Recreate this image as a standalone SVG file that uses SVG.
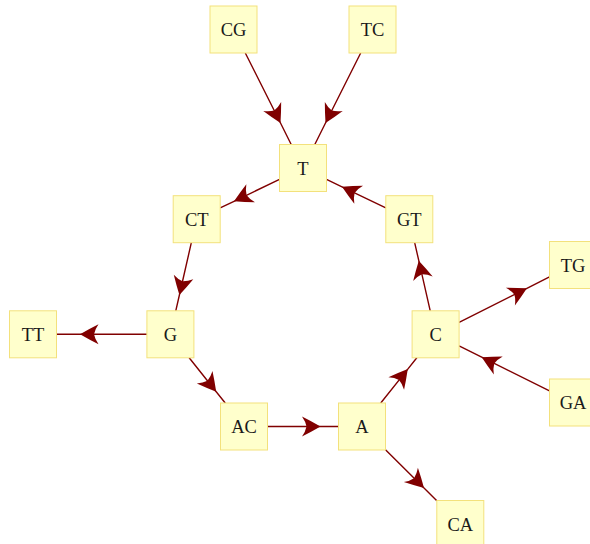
<svg xmlns="http://www.w3.org/2000/svg" width="590" height="544" viewBox="0 0 590 544">
<style>
.node rect{fill:#ffffcc;stroke:#f3e17c;stroke-width:1}
.node text{font-family:"Liberation Serif","DejaVu Serif",serif;font-size:18.5px;fill:#1a1a1a;text-anchor:middle}
.edge{fill:none;stroke:#800000;stroke-width:1.4;marker-mid:url(#arr)}
</style>
<defs>
<marker id="arr" markerUnits="userSpaceOnUse" markerWidth="22" markerHeight="22" viewBox="0 0 22 22" refX="19.5" refY="11" orient="auto">
<path d="M19.5,11 Q10,5.5 1,1 Q4.5,6 5.5,11 Q4.5,16 1,21 Q10,16.5 19.5,11 Z" fill="#800000"/>
</marker>
</defs>
<g id="connectors">
<path class="edge" d="M245.3,53 L280.5,123 L291.2,144.5"/>
<path class="edge" d="M360.7,53 L325.5,123 L314.8,144.5"/>
<path class="edge" d="M279.5,179.3 L234.0,201.3 L220.2,207.9"/>
<path class="edge" d="M385.8,207.9 L342.0,186.8 L326.5,179.3"/>
<path class="edge" d="M191.33,242.7 L179.4,295 L175.77,310.8"/>
<path class="edge" d="M430.23,310.8 L418.8,260.7 L414.67,242.7"/>
<path class="edge" d="M146.9,334.3 L80,334.3 L56.5,334.3"/>
<path class="edge" d="M189.16,357.8 L216.2,391.7 L225.24,403"/>
<path class="edge" d="M267.5,426.5 L320.5,426.5 L338.5,426.5"/>
<path class="edge" d="M380.76,403 L407.8,369.1 L416.84,357.8"/>
<path class="edge" d="M385.5,449.8 L424,488 L436.8,500.7"/>
<path class="edge" d="M459.1,322.45 L526.9,288.25 L549.5,276.85"/>
<path class="edge" d="M549.5,390.84 L481.7,357.2 L459.1,345.96"/>
</g>
<g id="CG" class="node"><rect x="210" y="6" width="47" height="47"/><text x="233.5" y="36">CG</text></g>
<g id="TC" class="node"><rect x="349" y="6" width="47" height="47"/><text x="372.5" y="36">TC</text></g>
<g id="T" class="node"><rect x="279.5" y="144.5" width="47" height="47"/><text x="303" y="174.5">T</text></g>
<g id="CT" class="node"><rect x="173.2" y="195.7" width="47" height="47"/><text x="196.7" y="225.7">CT</text></g>
<g id="GT" class="node"><rect x="385.8" y="195.7" width="47" height="47"/><text x="409.3" y="225.7">GT</text></g>
<g id="TT" class="node"><rect x="9.5" y="310.8" width="47" height="47"/><text x="33" y="340.8">TT</text></g>
<g id="G" class="node"><rect x="146.9" y="310.8" width="47" height="47"/><text x="170.4" y="340.8">G</text></g>
<g id="C" class="node"><rect x="412.1" y="310.8" width="47" height="47"/><text x="435.6" y="340.8">C</text></g>
<g id="TG" class="node"><rect x="549.5" y="241.5" width="47" height="47"/><text x="573" y="271.5">TG</text></g>
<g id="GA" class="node"><rect x="549.5" y="379" width="47" height="47"/><text x="573" y="409">GA</text></g>
<g id="AC" class="node"><rect x="220.5" y="403" width="47" height="47"/><text x="244" y="433">AC</text></g>
<g id="A" class="node"><rect x="338.5" y="403" width="47" height="47"/><text x="362" y="433">A</text></g>
<g id="CA" class="node"><rect x="436.8" y="500.5" width="47" height="47"/><text x="460.3" y="530.5">CA</text></g>
</svg>
